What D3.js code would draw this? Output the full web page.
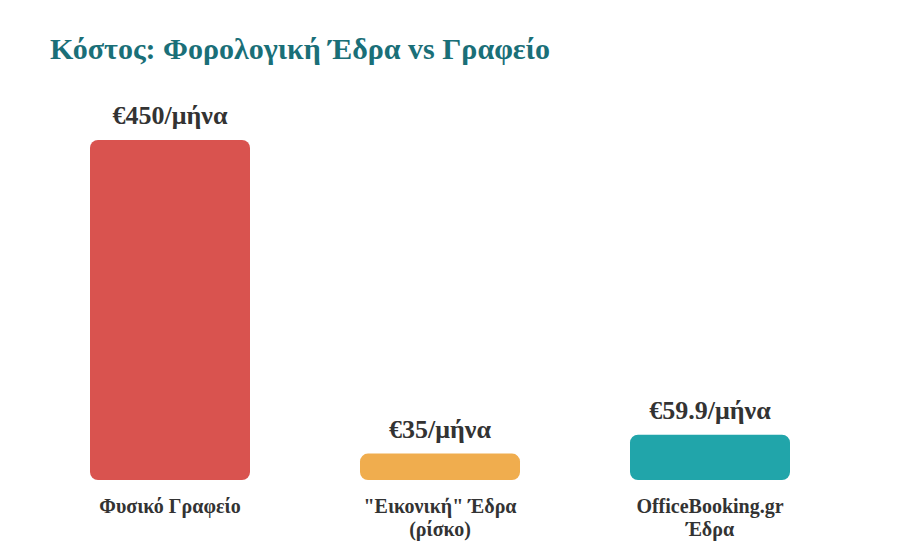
<!DOCTYPE html>
<html>
<head>
<meta charset="utf-8">
<script src="https://cdn.jsdelivr.net/npm/d3@7"></script>
<style>
  html, body { margin: 0; padding: 0; background: #fff; }
  svg { display: block; }
</style>
</head>
<body>
<svg id="chart" width="900" height="560"></svg>
<script>
const title = "Κόστος: Φορολογική Έδρα vs Γραφείο";
const categories = [["Φυσικό Γραφείο"], ["\"Εικονική\" Έδρα", "(ρίσκο)"], ["OfficeBooking.gr", "Έδρα"]];
const values = [450, 35, 59.9];
const valueLabels = ["€450/μήνα", "€35/μήνα", "€59.9/μήνα"];
const colors = ["#D9534F", "#F0AD4E", "#21A5AA"];

const svg = d3.select("#chart");
const font = "'Liberation Serif', 'Times New Roman', serif";
const yBase = 480, yTop = 140;

const x = d3.scaleBand()
  .domain(d3.range(values.length))
  .range([35, 845])
  .paddingInner(110 / 270)
  .paddingOuter(55 / 270);

const y = d3.scaleLinear().domain([0, 450]).range([yBase, yTop]);

svg.append("text")
  .attr("x", 50).attr("y", 59)
  .attr("font-family", font).attr("font-weight", "bold")
  .attr("font-size", 30).attr("fill", "#1A6F78")
  .text(title);

const g = svg.append("g");

g.selectAll("rect.bar").data(values).join("rect")
  .attr("class", "bar")
  .attr("x", (d, i) => x(i))
  .attr("y", d => y(d))
  .attr("width", x.bandwidth())
  .attr("height", d => yBase - y(d))
  .attr("rx", 8).attr("ry", 8)
  .attr("fill", (d, i) => colors[i]);

g.selectAll("text.val").data(values).join("text")
  .attr("class", "val")
  .attr("x", (d, i) => x(i) + x.bandwidth() / 2)
  .attr("y", d => y(d) - 16)
  .attr("text-anchor", "middle")
  .attr("font-family", font).attr("font-weight", "bold")
  .attr("font-size", 26).attr("fill", "#333")
  .text((d, i) => valueLabels[i]);

const cat = g.selectAll("text.cat").data(categories).join("text")
  .attr("class", "cat")
  .attr("x", (d, i) => x(i) + x.bandwidth() / 2)
  .attr("y", 513)
  .attr("text-anchor", "middle")
  .attr("font-family", font).attr("font-weight", "bold")
  .attr("font-size", 20).attr("fill", "#333");

cat.each(function(lines, i) {
  d3.select(this).selectAll("tspan").data(lines).join("tspan")
    .attr("x", x(i) + x.bandwidth() / 2)
    .attr("dy", (l, j) => j === 0 ? 0 : 23)
    .text(l => l);
});
</script>
</body>
</html>
